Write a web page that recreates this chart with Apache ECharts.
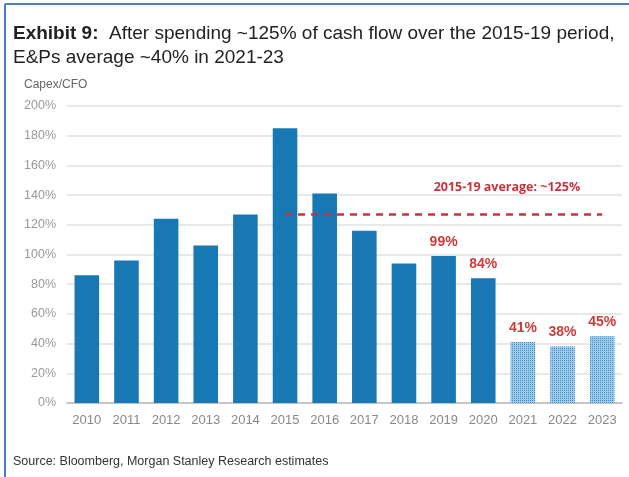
<!DOCTYPE html>
<html><head><meta charset="utf-8">
<script src="https://cdn.jsdelivr.net/npm/echarts@6/dist/echarts.min.js"></script>
<style>html,body{margin:0;padding:0;background:#fff}#c{width:629px;height:477px}</style>
</head><body><div id="c"></div>
<script>
var years = ['2010','2011','2012','2013','2014','2015','2016','2017','2018','2019','2020','2021','2022','2023'];
var capexCfo = [86, 96, 124, 106, 127, 185, 141, 116, 94, 99, 84, 41, 38, 45];
var labeledYears = ['2019','2020','2021','2022','2023'];
var estimateYears = ['2021','2022','2023'];
var avgValue = 127;
var avgStart = '2015', avgEnd = '2023';
var avgLabel = '2015-19 average: ~125%';
var avgLabelAt = ['2021', 145];

var chart = echarts.init(document.getElementById('c'));
var data = years.map(function (y, i) {
  var est = estimateYears.indexOf(y) >= 0;
  var item = { value: capexCfo[i] };
  if (est) {
    item.itemStyle = {
      color: '#9ccbec',
      decal: { symbol: 'rect', symbolSize: 1, color: 'rgba(45,125,190,0.8)', dashArrayX: [1, 1], dashArrayY: [1, 1], maxTileWidth: 64, maxTileHeight: 64 }
    };
  }
  if (labeledYears.indexOf(y) >= 0) {
    item.label = { show: true, position: 'top', distance: 7, formatter: '{c}%', color: '#d23a3a', fontWeight: 'bold', fontSize: 14, fontFamily: 'Liberation Sans' };
  }
  return item;
});
chart.setOption({
  animation: false,
  grid: { left: 67, right: 7, top: 106, bottom: 74 },
  graphic: [
    { type: 'line', shape: { x1: 5, y1: 4, x2: 629, y2: 4 }, style: { stroke: '#4a7fc8', lineWidth: 2 } },
    { type: 'line', shape: { x1: 5, y1: 4, x2: 5, y2: 477 }, style: { stroke: '#4a7fc8', lineWidth: 2 } },
    { type: 'text', left: 13, top: 24, style: { text: '{b|Exhibit 9:}  After spending ~125% of cash flow over the 2015-19 period,', rich: { b: { fontWeight: 'bold', fontSize: 19, fill: '#222', fontFamily: 'Liberation Sans' } }, font: '19px "Liberation Sans"', fill: '#222' } },
    { type: 'text', left: 13, top: 48, style: { text: 'E&Ps average ~40% in 2021-23', font: '19px "Liberation Sans"', fill: '#222' } },
    { type: 'text', left: 24, top: 79, style: { text: 'Capex/CFO', font: '12px "Liberation Sans"', fill: '#666' } },
    { type: 'text', left: 13, top: 455, style: { text: 'Source: Bloomberg, Morgan Stanley Research estimates', font: '12.5px "Liberation Sans"', fill: '#333' } }
  ],
  xAxis: {
    type: 'category', data: years,
    axisLine: { lineStyle: { color: '#bbb', width: 1.5 } },
    axisTick: { show: false },
    axisLabel: { color: '#888', fontSize: 13, fontFamily: 'Liberation Sans', margin: 11 }
  },
  yAxis: {
    type: 'value', min: 0, max: 200, interval: 20,
    axisLine: { show: false }, axisTick: { show: false },
    axisLabel: { color: '#999', fontSize: 12.5, fontFamily: 'Liberation Sans', formatter: '{value}%', margin: 11 },
    splitLine: { lineStyle: { color: '#e0e0e0', width: 1.5 } }
  },
  series: [{
    type: 'bar', data: data, barCategoryGap: '38%',
    itemStyle: { color: '#1878b4' },
    markLine: {
      symbol: 'none', silent: true,
      lineStyle: { color: '#c8323c', type: [7, 6], width: 2.5 },
      label: { show: false },
      data: [[{ coord: [avgStart, avgValue] }, { coord: [avgEnd, avgValue] }]]
    }
  }, {
    type: 'scatter', data: [], markPoint: {
      symbol: 'rect', symbolSize: 0,
      label: { show: true, formatter: avgLabel, color: '#c8323c', fontWeight: 'bold', fontSize: 12.5, fontFamily: 'Open Sans', offset: [-16, 0] },
      data: [{ coord: avgLabelAt }]
    }
  }]
});
</script></body></html>
